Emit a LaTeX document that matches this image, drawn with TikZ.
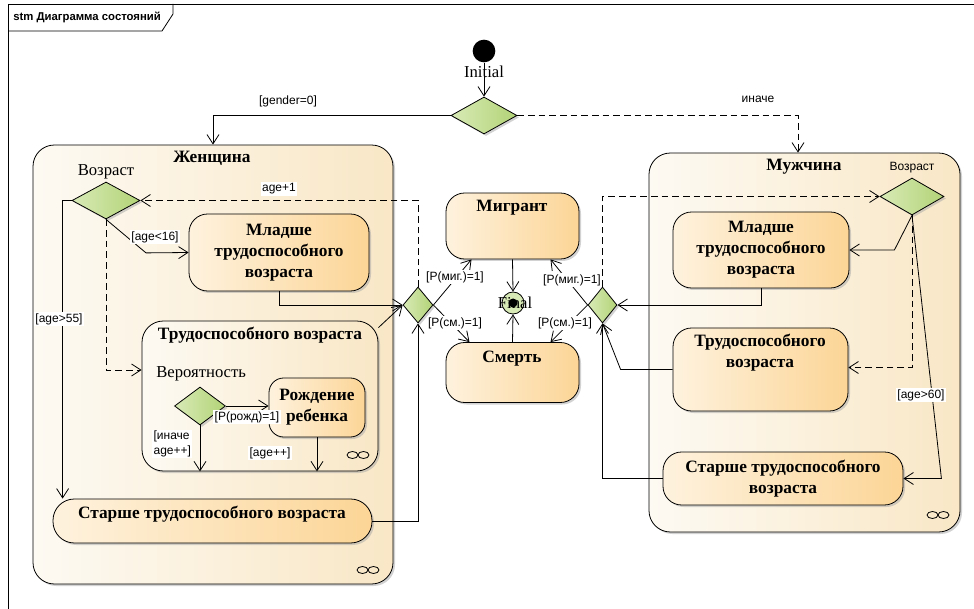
\documentclass[tikz,border=0pt]{standalone}
\usepackage{fontspec}
\setmainfont{Liberation Serif}
\setsansfont{Liberation Sans}
\usetikzlibrary{arrows.meta,shapes.geometric,shadows,calc}
\definecolor{regL}{RGB}{253,250,243}
\definecolor{regR}{RGB}{249,231,198}
\definecolor{boxL}{RGB}{254,242,222}
\definecolor{boxR}{RGB}{252,213,150}
\definecolor{grL}{RGB}{216,234,182}
\definecolor{grR}{RGB}{178,211,118}
\begin{document}
\begin{tikzpicture}[x=0.75pt,y=0.75pt,yscale=-1,xscale=1,
  conn/.style={line width=0.6pt,-{Straight Barb[length=7pt,width=9pt]}},
  dashconn/.style={conn,dash pattern=on 5pt off 3pt},
  shade/.style={drop shadow={shadow xshift=1.5pt,shadow yshift=-1.5pt,fill=black!35,opacity=0.5}},
  region/.style={draw,line width=0.6pt,rounded corners=16pt,left color=regL,right color=regR,shade},
  stbox/.style={draw,line width=0.6pt,rounded corners=14pt,left color=boxL,right color=boxR,shade,
    align=center,font=\bfseries\fontsize{13}{15.75}\selectfont},
  choice/.style={draw,diamond,line width=0.6pt,inner sep=0pt,left color=grL,right color=grR,shade},
  guard/.style={font=\sffamily\fontsize{9}{11}\selectfont,fill=white,inner sep=1pt},
  title/.style={font=\bfseries\fontsize{13}{15.75}\selectfont,align=center,inner sep=0.75pt},
  plain/.style={font=\fontsize{12.5}{14}\selectfont,inner sep=0.75pt},
]
\useasboundingbox (0,0) rectangle (974,609);
%Frame
\draw[line width=0.6pt] (8,620) -- (8,4) -- (980,4);
\draw[line width=0.6pt] (8,31) -- (162,31) -- (173,14) -- (173,4);
\node[font=\sffamily\bfseries\fontsize{8.5}{10}\selectfont,anchor=west,inner sep=0pt] (frameT) at (13,17) {stm Диаграмма состояний};

%Regions
\node[region,minimum width=270pt,minimum height=329.25pt] (women) at (213,364.5) {};
\node[region,minimum width=233.25pt,minimum height=284.25pt] (men) at (804.5,342.5) {};
\node[title] (womenT) at (212,158) {Женщина};
\node[title] (menT) at (804,167) {Мужчина};
\node[region,minimum width=177pt,minimum height=112.5pt] (fWork) at (260,396) {};
\node[title] (fWorkT) at (260,335) {Трудоспособного возраста};

%Initial and gender choice
\node[circle,fill=black,minimum size=17pt,inner sep=0pt] (init) at (484,51) {};
\node[plain] (initT) at (484,72) {Initial};
\node[choice,minimum width=49.5pt,minimum height=27.75pt] (dGender) at (484,115.5) {};

%Women states
\node[plain] (ageLT) at (106,172) {Возраст};
\node[choice,minimum width=51pt,minimum height=27.75pt] (dAgeL) at (106,200.5) {};
\node[stbox,minimum width=135pt,minimum height=57.75pt] (fYoung) at (279,252.5) {Младше\\трудоспособного\\возраста};
\node[plain,anchor=west] (probT) at (155,374) {Вероятность};
\node[choice,minimum width=38.25pt,minimum height=28.5pt] (dBirth) at (200,406) {};
\node[stbox,rounded corners=11pt,minimum width=72pt,minimum height=44.25pt] (birth) at (317,407.5) {Рождение\\ребенка};
\node[stbox,rounded corners=16pt,minimum width=239.25pt,minimum height=33pt] (fOld) at (212.5,521) {};
\node[title] (fOldT) at (212,514) {Старше трудоспособного возраста};
\node[choice,minimum width=22.5pt,minimum height=27pt] (dMergeL) at (418,305) {};

%Common states
\node[stbox,minimum width=99.75pt,minimum height=49.5pt] (migrant) at (512.5,226) {};
\node[title] (migrantT) at (512,208) {Мигрант};
\node[stbox,minimum width=99.75pt,minimum height=45pt] (death) at (512.5,372.5) {};
\node[title] (deathT) at (512,359) {Смерть};
\node[circle,draw,line width=0.6pt,fill=grL,minimum size=16.5pt,inner sep=0pt] (final) at (513,303) {};
\fill (final.center) circle (4.5);

%Men states
\node[choice,minimum width=21.75pt,minimum height=27pt] (dMergeR) at (602.5,305) {};
\node[font=\sffamily\fontsize{9}{11}\selectfont] (ageRT) at (912,168) {Возраст};
\node[choice,minimum width=48pt,minimum height=27.75pt] (dAgeR) at (912,196.5) {};
\node[stbox,minimum width=132pt,minimum height=57pt] (mYoung) at (761,250) {Младше\\трудоспособного\\возраста};
\node[stbox,minimum width=131.25pt,minimum height=62.25pt] (mWork) at (760.5,369.5) {};
\node[title] (mWorkT) at (760,353) {Трудоспособного\\возраста};
\node[stbox,minimum width=180pt,minimum height=39.75pt] (mOld) at (783,478.5) {Старше трудоспособного\\возраста};

%Composite marks
\foreach \cx/\cy in {368/570, 358/455, 938/515}{
  \draw[line width=0.6pt] (\cx-5.5,\cy) ellipse (5.5 and 3.5);
  \draw[line width=0.6pt] (\cx+5.5,\cy) ellipse (5.5 and 3.5);
}

%Transitions
\draw[conn] (init) -- (dGender);
\draw[conn] (dGender.west) -| (women.north);
\draw[dashconn] (dGender.east) -| ($(men.north)+(-6.5,0)$);
\draw[dashconn] (dMergeL.north) |- (dAgeL.east);
\draw[conn] (dAgeL.south) -- ++(40,33.5) -- (fYoung.west);
\draw[dashconn] (dAgeL.south) |- ($(fWork.west)+(0,-26)$);
\draw[conn] (dAgeL.west) -- ++(-9,0) coordinate (ageOldBend) -- (ageOldBend |- fOld.north);
\draw[conn] (fYoung.south) |- (dMergeL.west);
\draw[conn] (fWork.30) -- (dMergeL.west);
\draw[conn] (fOld.east) -| (dMergeL.south);
\draw[conn] (dBirth.east) -- (dBirth.east -| birth.west);
\draw[conn] (dBirth.south) -- (dBirth.south |- fWork.south);
\draw[conn] (birth.south) -- (birth.south |- fWork.south);
\draw[conn] (dMergeL.east) -- ($(migrant.south)+(-41,0)$);
\draw[conn] (dMergeL.east) -- ($(death.north)+(-43,0)$);
\draw[conn] (migrant.south) -- (final.north);
\draw[conn] (death.north) -- (final.south);
\draw[conn] (dMergeR.west) -- ($(migrant.south)+(38,0)$);
\draw[conn] (dMergeR.west) -- ($(death.north)+(38,0)$);
\draw[dashconn] (dMergeR.north) |- (dAgeR.west);
\draw[conn] (dAgeR.south) -- ($(mYoung.east)+(45,0)$) -- (mYoung.east);
\draw[dashconn] (dAgeR.south) |- ($(mWork.east)+(0,-2)$);
\draw[conn] (dAgeR.south) -- ($(mOld.east)+(38,0)$) -- (mOld.east);
\draw[conn] (mYoung.south) |- (dMergeR.east);
\draw[conn] (mWork.west) -- ++(-52,0) -- (dMergeR.south);
\draw[conn] (mOld.west) -| (dMergeR.south);

% Text Node
\node[plain] (finalT) at (515,303) {Final};
\node[guard] (gGender) at (288,101) {[gender=0]};
\node[guard] (gElse) at (758,99) {иначе};
\node[guard] (gAgeInc) at (279,189) {age+1};
\node[guard] (gYoung) at (155,237) {[age<16]};
\node[guard] (gOldL) at (59,319) {[age>55]};
\node[guard] (gBirth) at (247,417) {[P(рожд)=1]};
\node[guard,align=left,anchor=west] (gElseBirth) at (152,444) {[иначе\\age++]};
\node[guard] (gAgePP) at (270,453) {[age++]};
\node[guard] (gMigL) at (455,277) {[P(миг.)=1]};
\node[guard] (gDeathL) at (455,323) {[P(см.)=1]};
\node[guard] (gMigR) at (572,280) {[P(миг.)=1]};
\node[guard] (gDeathR) at (565,323) {[P(см.)=1]};
\node[guard] (gOldR) at (921,395) {[age>60]};
\end{tikzpicture}
\end{document}
